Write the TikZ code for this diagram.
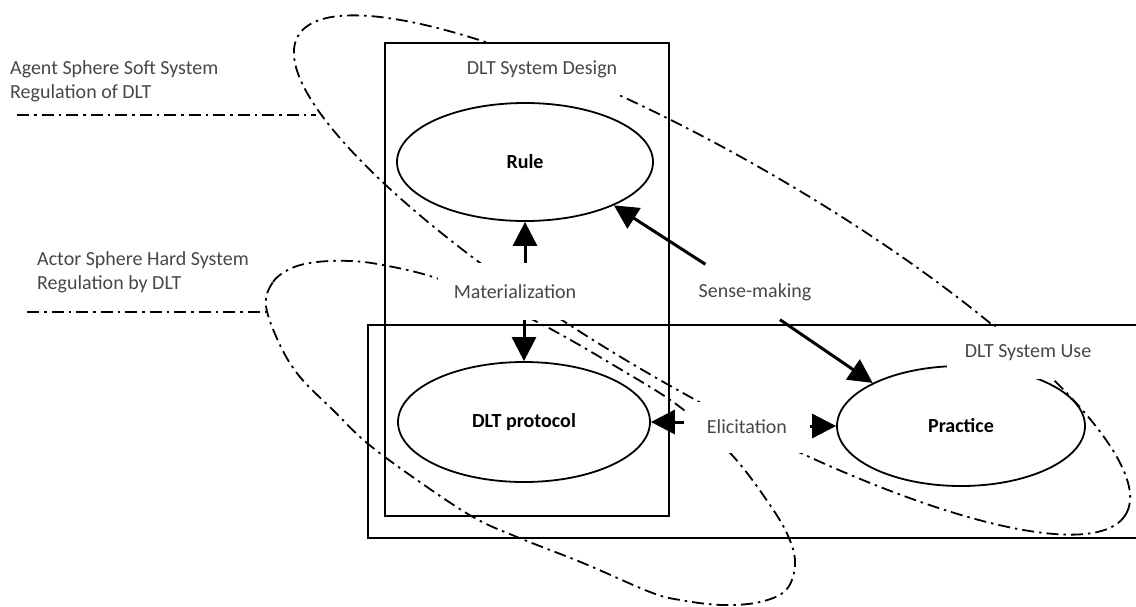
\documentclass[tikz,border=0pt]{standalone}
\usepackage{fontspec}
\setmainfont{Carlito}
\usetikzlibrary{shapes.geometric,arrows.meta,calc}
\begin{document}
\begin{tikzpicture}[x=1pt,y=-1pt,
  dashdot/.style={line width=1.8pt, dash pattern=on 12pt off 5pt on 2.5pt off 5pt},
  frame/.style={draw, line width=2pt, inner sep=0, fill=none},
  oval/.style={draw, ellipse, line width=1.8pt, inner sep=0, font=\fontsize{20}{24}\selectfont\bfseries},
  lbl/.style={fill=white, inner sep=0, text=black!72, font=\fontsize{20}{24}\selectfont},
  side/.style={inner sep=0, text=black!72, font=\fontsize{20}{24}\selectfont, align=left, anchor=west},
  arr/.style={line width=3pt, -{Triangle[length=24pt,width=24pt]}},
]
\useasboundingbox (0,0) rectangle (1136,606);

% spheres (dash-dot outlines)
\draw[dashdot, rotate around={-30:(712,275)}] (712,275) ellipse [x radius=478pt, y radius=117pt];
\draw[dashdot] plot[smooth cycle, tension=0.6] coordinates {
  (266,306) (273,282) (292,268) (317,262) (350,261) (383,265) (433,277)
  (490,300) (547,327) (615,366) (680,407) (732,455) (770,505) (789,538)
  (795,565) (786,590) (760,602) (722,605) (680,600) (650,592) (583,563)
  (517,537) (473,517) (417,480) (367,443) (333,410) (300,377) (280,345)};

% side labels and their leader lines
\node[side] (agentlbl) at (10,81.5) {Agent Sphere Soft System\\Regulation of DLT};
\node[side] (actorlbl) at (37,272) {Actor Sphere Hard System\\Regulation by DLT};
\coordinate (agentL) at (17,115);
\coordinate (agentR) at (316,115);
\coordinate (actorL) at (27,312);
\coordinate (actorR) at (266,312);
\draw[dashdot] (agentL) -- (agentR);
\draw[dashdot] (actorL) -- (actorR);

% main ellipses
\node[oval, minimum width=256pt, minimum height=118pt] (rule) at (525,162) {Rule};
\node[oval, minimum width=252pt, minimum height=120pt] (proto) at (524,422) {DLT protocol};
\node[oval, minimum width=248pt, minimum height=120pt] (practice) at (961,426) {Practice};

% labels on white ground
\node[lbl, minimum width=176pt, minimum height=52pt] (design) at (542,69) {DLT System Design};
\node[lbl, minimum width=154pt, minimum height=57pt] (mat) at (515,291.5) {Materialization};
\node[lbl, minimum width=110pt, minimum height=55pt] (sense) at (755,292) {Sense-making};
\node[lbl, minimum width=125pt, minimum height=51pt] (elic) at (747,427) {Elicitation};
\node[lbl, minimum width=162pt, minimum height=52pt] (use) at (1028,353) {DLT System Use};

% frames
\node[frame, minimum width=284pt, minimum height=473pt] (designbox) at (527,279.5) {};
\node[frame, minimum width=772pt, minimum height=213pt] (usebox) at (754,431.5) {};

% arrows
\draw[arr] (rule.south |- mat.north) -- (rule.south);
\draw[arr] (proto.north |- mat.south) -- (proto.north);
\draw[arr] ($(sense.north west)+(7,0)$) -- (rule.-26);
\draw[arr] ($(sense.south)+(25,0)$) -- (practice.154);
\draw[arr] (elic.west |- proto.east) -- (proto.east);
\draw[arr] (elic.east |- practice.west) -- (practice.west);
\end{tikzpicture}
\end{document}
